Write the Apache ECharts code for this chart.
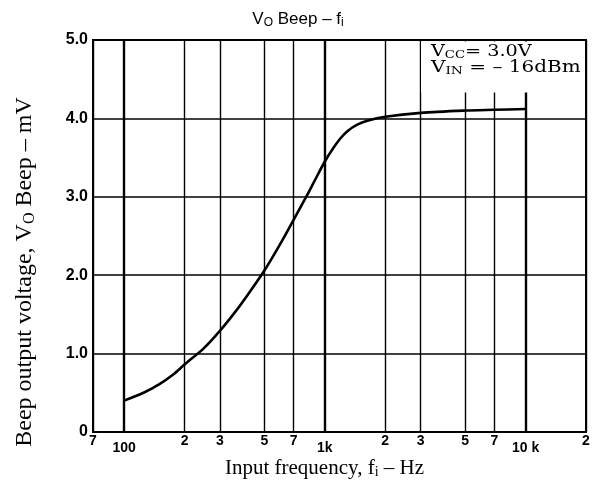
<!DOCTYPE html>
<html>
<head>
<meta charset="utf-8">
<script src="https://cdn.jsdelivr.net/npm/echarts@6/dist/echarts.min.js"></script>
<style>
html, body { margin: 0; padding: 0; background: #fff; }
#chart { width: 596px; height: 484px; }
</style>
</head>
<body>
<div id="chart"></div>
<script>
// (Hz, mV)
var freqs = [100, 125, 150, 175, 200, 250, 300, 350, 400, 500, 600, 700, 816, 900, 1000, 1100, 1200, 1300, 1450, 1630, 2000, 3000, 5000, 7000, 10000];
var volts = [0.40, 0.50, 0.61, 0.73, 0.86, 1.07, 1.29, 1.50, 1.70, 2.06, 2.40, 2.71, 3.02, 3.23, 3.45, 3.62, 3.75, 3.84, 3.92, 3.97, 4.02, 4.07, 4.10, 4.11, 4.12];

// vertical grid lines and their labels
var gridFreqs = [70, 100, 200, 300, 500, 700, 1000, 2000, 3000, 5000, 7000, 10000, 20000];
var gridLabels = ["7", "100", "2", "3", "5", "7", "1k", "2", "3", "5", "7", "10 k", "2"];
var majorFreqs = [100, 1000, 10000];

var chart = echarts.init(document.getElementById("chart"));

var lineData = freqs.map(function (f, i) { return [f, volts[i]]; });

var vLines = gridFreqs.map(function (f, i) {
	var major = majorFreqs.indexOf(f) >= 0;
	return {
		xAxis: f,
		lineStyle: { color: "#000", type: "solid", width: major ? 2.4 : 1.4 },
		label: {
			show: true,
			position: "start",
			formatter: gridLabels[i],
			distance: major ? 9 : 2,
			color: "#000",
			fontFamily: "Liberation Sans",
			fontWeight: "bold",
			fontSize: 14
		}
	};
});

var subStyle = function (size, pad) {
	return { fontFamily: "Liberation Serif", fontSize: size, color: "#000", fill: "#000", verticalAlign: "bottom", padding: [pad, 0, 0, 0] };
};
var noteSub = { fontFamily: "DejaVu Serif", fontSize: 11, fill: "#000", verticalAlign: "bottom", padding: [7, 0, 0, 0] };

var option = {
	backgroundColor: "#fff",
	animation: false,
	title: {
		text: "V{s|O} Beep – f{s|i}",
		left: "center",
		top: 4,
		textStyle: {
			fontFamily: "Liberation Sans",
			fontWeight: "normal",
			fontSize: 17,
			color: "#000",
			rich: {
				s: { fontFamily: "Liberation Sans", fontSize: 12, color: "#000", verticalAlign: "bottom", padding: [8, 0, 0, 0] }
			}
		}
	},
	grid: {
		left: 93,
		right: 10,
		top: 40,
		bottom: 48,
		show: true,
		borderColor: "#000",
		borderWidth: 2
	},
	xAxis: {
		type: "log",
		logBase: 10,
		min: 70,
		max: 20000,
		axisLine: { show: false },
		axisTick: { show: false },
		axisLabel: { show: false },
		splitLine: { show: false },
		name: "Input frequency, f{s|i} – Hz",
		nameLocation: "middle",
		nameGap: 25,
		nameTextStyle: {
			fontFamily: "Liberation Serif",
			fontSize: 21,
			color: "#000",
			padding: [0, 30, 0, 0],
			rich: { s: subStyle(14, 8) }
		}
	},
	yAxis: {
		type: "value",
		min: 0,
		max: 5,
		interval: 1,
		axisLine: { show: false },
		axisTick: { show: false },
		axisLabel: {
			color: "#000",
			fontFamily: "Liberation Sans",
			fontWeight: "bold",
			fontSize: 16,
			margin: 5,
			formatter: function (v) { return v === 0 ? "0" : v.toFixed(1); }
		},
		splitLine: { lineStyle: { color: "#000", width: 1.6 } }
	},
	graphic: [
		{
			type: "rect",
			z: 100,
			shape: { x: 421, y: 41.5, width: 163.5, height: 51 },
			style: { fill: "#fff" }
		},
		{
			type: "text",
			z: 101,
			x: 431,
			y: 43,
			scaleX: 1.2,
			style: {
				text: "V{s|CC}= 3.0V",
				font: "16px 'DejaVu Serif'",
				fill: "#000",
				rich: { s: noteSub }
			}
		},
		{
			type: "text",
			z: 101,
			x: 431,
			y: 59,
			scaleX: 1.25,
			style: {
				text: "V{s|IN} = – 16dBm",
				font: "16px 'DejaVu Serif'",
				fill: "#000",
				rich: { s: noteSub }
			}
		},
		{
			type: "text",
			z: 101,
			x: 25,
			y: 272,
			rotation: Math.PI / 2,
			style: {
				text: "Beep output voltage, V{s|O} Beep – mV",
				font: "24px 'Liberation Serif'",
				fill: "#000",
				align: "center",
				verticalAlign: "middle",
				rich: { s: subStyle(16, 9) }
			}
		}
	],
	series: [
		{
			type: "line",
			data: [],
			silent: true,
			markLine: {
				silent: true,
				symbol: "none",
				animation: false,
				data: vLines
			}
		},
		{
			type: "line",
			data: lineData,
			smooth: 0.3,
			showSymbol: false,
			z: 5,
			lineStyle: { color: "#000", width: 2.6 }
		}
	]
};
chart.setOption(option);
</script>
</body>
</html>
